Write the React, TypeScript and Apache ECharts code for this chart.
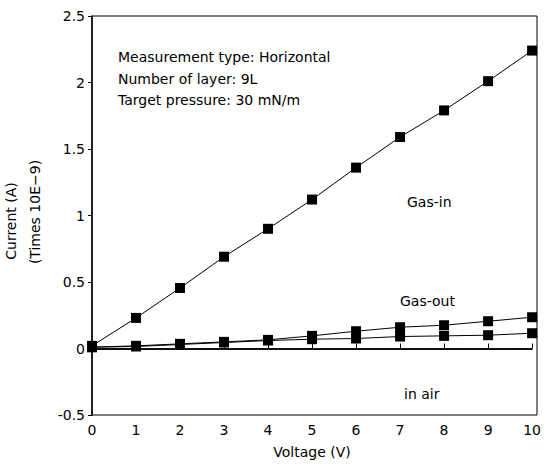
import React, { useEffect, useRef } from "react";
import * as echarts from "echarts";

const voltage = [0, 1, 2, 3, 4, 5, 6, 7, 8, 9, 10];
const gasIn = [0.02, 0.23, 0.455, 0.69, 0.9, 1.12, 1.36, 1.59, 1.79, 2.01, 2.24];
const gasOut = [0.01, 0.02, 0.035, 0.05, 0.065, 0.095, 0.13, 0.16, 0.175, 0.205, 0.235];
const inAir = [0.01, 0.015, 0.03, 0.045, 0.06, 0.07, 0.075, 0.09, 0.095, 0.1, 0.115];
const infoLines = [
  "Measurement type: Horizontal",
  "Number of layer: 9L",
  "Target pressure: 30 mN/m",
];

const FONT = "DejaVu Sans";

export default function App() {
  const ref = useRef<HTMLDivElement>(null);
  useEffect(() => {
    if (!ref.current) return;
    const chart = echarts.init(ref.current, undefined, { renderer: "svg" });
    const mk = (name: string, ys: number[]) => ({
      name,
      type: "line",
      data: voltage.map((v, i) => [v, ys[i]]),
      symbol: "rect",
      symbolSize: 10,
      itemStyle: { color: "#000" },
      lineStyle: { color: "#000", width: 1 },
      z: 3,
    });
    const txt = (text: string, left: number, top: number) => ({
      type: "text",
      left,
      top,
      style: { text, fill: "#000", fontSize: 14, fontFamily: FONT },
    });
    chart.setOption({
      animation: false,
      backgroundColor: "#fff",
      textStyle: { fontFamily: FONT },
      grid: { left: 92, right: 7, top: 16, bottom: 51 },
      xAxis: {
        type: "value",
        min: 0,
        max: 10,
        interval: 1,
        name: "Voltage (V)",
        nameLocation: "middle",
        nameGap: 30,
        nameTextStyle: { color: "#000", fontSize: 14, fontFamily: FONT },
        axisLine: { show: true, lineStyle: { color: "#000", width: 1.5 } },
        axisTick: { show: true, inside: true, length: 5, lineStyle: { color: "#000" } },
        axisLabel: { color: "#000", fontSize: 14, margin: 8, fontFamily: FONT },
        splitLine: { show: false },
      },
      yAxis: {
        type: "value",
        min: -0.5,
        max: 2.5,
        interval: 0.5,
        axisLine: { show: true, onZero: false, lineStyle: { color: "#000", width: 1.5 } },
        axisTick: { show: true, length: 4, lineStyle: { color: "#000" } },
        axisLabel: { color: "#000", fontSize: 14, margin: 7, fontFamily: FONT },
        splitLine: { show: false },
      },
      series: [
        {
          ...mk("Gas-in", gasIn),
          markLine: {
            silent: true,
            symbol: "none",
            label: { show: false },
            lineStyle: { color: "#000", width: 1.5, type: "solid" },
            data: [{ yAxis: 0 }],
          },
        },
        mk("Gas-out", gasOut),
        mk("In air", inAir),
      ],
      graphic: [
        {
          type: "rect",
          shape: { x: 92, y: 16, width: 445, height: 399 },
          style: { fill: "none", stroke: "#000", lineWidth: 1 },
          silent: true,
          z: 0,
        },
        ...infoLines.map((t, i) => txt(t, 118, 50 + i * 21.5)),
        txt("Gas-in", 407, 195),
        txt("Gas-out", 400, 294),
        txt("in air", 404, 387),
        {
          type: "text",
          x: 11,
          y: 221,
          rotation: Math.PI / 2,
          style: {
            text: "Current (A)",
            fill: "#000",
            fontSize: 14,
            fontFamily: FONT,
            align: "center",
            verticalAlign: "middle",
          },
        },
        {
          type: "text",
          x: 35,
          y: 212,
          rotation: Math.PI / 2,
          style: {
            text: "(Times 10E\u22129)",
            fill: "#000",
            fontSize: 14,
            fontFamily: FONT,
            align: "center",
            verticalAlign: "middle",
          },
        },
      ],
    });
    return () => chart.dispose();
  }, []);
  return (
    <div
      ref={ref}
      style={{ position: "fixed", left: 0, top: 0, width: 544, height: 466, background: "#fff" }}
    />
  );
}
